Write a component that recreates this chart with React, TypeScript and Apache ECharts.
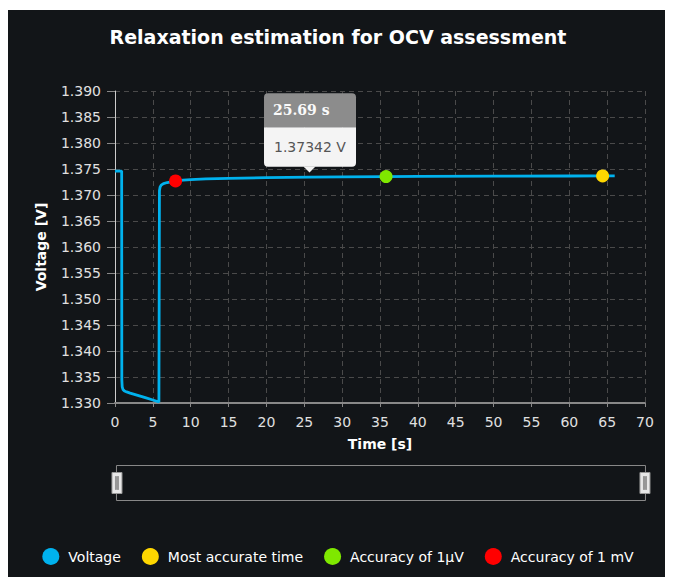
import { useEffect, useRef } from 'react';
import * as echarts from 'echarts';

const chartTitle = 'Relaxation estimation for OCV assessment';
const timeValues = [0, 0.88, 0.9, 0.95, 1.05, 1.25, 1.54, 2, 3, 4, 5, 5.8, 5.85, 5.87, 5.95, 6.1, 6.4, 6.9, 8.0, 9, 10, 12, 15, 20, 25.69, 30, 35.8, 40, 50, 60, 64.4, 66];
const voltageValues = [1.3746, 1.3746, 1.3345, 1.3331, 1.3326, 1.3323, 1.33213, 1.3319, 1.33148, 1.33103, 1.33057, 1.3302, 1.3302, 1.3708, 1.3715, 1.3719, 1.3722, 1.3724, 1.3727, 1.37285, 1.37297, 1.3731, 1.3732, 1.37334, 1.37342, 1.37348, 1.37355, 1.37358, 1.37362, 1.37365, 1.37366, 1.37367];
const mostAccurate = [64.4, 1.37366];
const accuracy1uV = [35.8, 1.37355];
const accuracy1mV = [8.0, 1.3727];
const tooltipTime = 25.69;
const tooltipVoltage = 1.37342;
const xTicks = { min: 0, max: 70, interval: 5 };
const yTicks = { min: 1.33, max: 1.39, interval: 0.005 };

const BG = '#121518';
const FONT = 'DejaVu Sans';

export default function App() {
  const ref = useRef<HTMLDivElement>(null);
  useEffect(() => {
    document.documentElement.style.overflow = 'hidden';
    document.body.style.overflow = 'hidden';
    const chart = echarts.init(ref.current!, null, { renderer: 'svg' });
    const voltageData = timeValues.map((t, i) => [t, voltageValues[i]]);
    chart.setOption({
      animation: false,
      backgroundColor: BG,
      textStyle: { fontFamily: FONT },
      title: {
        text: chartTitle,
        left: 'center',
        top: 12,
        textStyle: { color: '#ffffff', fontWeight: 'bold', fontSize: 19, fontFamily: FONT },
      },
      legend: {
        left: 'center',
        top: 533,
        icon: 'circle',
        itemWidth: 25,
        itemHeight: 17,
        itemGap: 21,
        textStyle: { color: '#ffffff', fontSize: 14, fontFamily: FONT },
        data: ['Voltage', 'Most accurate time', 'Accuracy of 1μV', 'Accuracy of 1 mV'],
      },
      grid: { left: 107, top: 81, width: 530, height: 312, containLabel: false },
      xAxis: {
        type: 'value',
        min: xTicks.min,
        max: xTicks.max,
        interval: xTicks.interval,
        name: 'Time [s]',
        nameLocation: 'middle',
        nameGap: 34,
        nameTextStyle: { color: '#ffffff', fontWeight: 'bold', fontSize: 14, fontFamily: FONT },
        axisLine: { show: true, onZero: false, lineStyle: { color: '#888888', width: 2 } },
        axisTick: { show: true, length: 4, lineStyle: { color: '#888888' } },
        axisLabel: { color: '#e0e0e0', fontSize: 14, margin: 12, fontFamily: FONT },
        splitLine: { show: true, lineStyle: { color: '#4a4a4a', type: [5, 4], width: 1 } },
      },
      yAxis: {
        type: 'value',
        min: yTicks.min,
        max: yTicks.max,
        interval: yTicks.interval,
        name: 'Voltage [V]',
        nameLocation: 'middle',
        nameGap: 67,
        nameTextStyle: { color: '#ffffff', fontWeight: 'bold', fontSize: 14, fontFamily: FONT },
        axisLine: { show: true, lineStyle: { color: '#cccccc', width: 1 } },
        axisTick: { show: true, length: 8, lineStyle: { color: '#888888' } },
        axisLabel: {
          color: '#e0e0e0',
          fontSize: 14,
          margin: 14,
          fontFamily: FONT,
          formatter: (v: number) => v.toFixed(3),
        },
        splitLine: { show: true, lineStyle: { color: '#4a4a4a', type: [5, 4], width: 1 } },
      },
      dataZoom: [
        {
          type: 'slider',
          xAxisIndex: 0,
          filterMode: 'none',
          start: 0,
          end: 100,
          left: 107,
          top: 455,
          width: 530,
          height: 36,
          showDetail: false,
          showDataShadow: false,
          brushSelect: false,
          moveHandleSize: 0,
          borderColor: '#888888',
          borderRadius: 0,
          backgroundColor: 'rgba(0,0,0,0)',
          fillerColor: 'rgba(0,0,0,0)',
          handleIcon: 'path://M0,0 L10,0 L10,21 L0,21 Z M3.5,4 L3.5,17 L4.5,17 L4.5,4 Z M5.5,4 L5.5,17 L6.5,17 L6.5,4 Z',
          handleSize: 21,
          handleStyle: { color: '#e8e8e8', borderColor: '#999999', borderWidth: 1 },
          emphasis: { handleStyle: { color: '#e8e8e8', borderColor: '#999999' } },
        },
      ],
      series: [
        {
          name: 'Voltage',
          type: 'line',
          data: voltageData,
          showSymbol: false,
          symbol: 'circle',
          color: '#00b2ee',
          itemStyle: { color: '#00b2ee', opacity: 1 },
          lineStyle: { color: '#00b2ee', width: 2.8 },
          z: 2,
        },
        {
          name: 'Most accurate time',
          type: 'scatter',
          data: [mostAccurate],
          symbolSize: 13,
          itemStyle: { color: '#ffd700', opacity: 1 },
          z: 5,
        },
        {
          name: 'Accuracy of 1μV',
          type: 'scatter',
          data: [accuracy1uV],
          symbolSize: 13,
          itemStyle: { color: '#7fe800', opacity: 1 },
          z: 5,
        },
        {
          name: 'Accuracy of 1 mV',
          type: 'scatter',
          data: [accuracy1mV],
          symbolSize: 13,
          itemStyle: { color: '#ff0000', opacity: 1 },
          z: 5,
        },
      ],
    });
    const pt = chart.convertToPixel({ seriesIndex: 0 }, [tooltipTime, tooltipVoltage]) as number[];
    chart.setOption({
      graphic: [
        {
          type: 'group',
          x: pt[0],
          y: pt[1],
          z: 100,
          children: [
            { type: 'rect', shape: { x: -45.5, y: -84, width: 92, height: 34, r: [4, 4, 0, 0] }, style: { fill: '#8c8c8c' } },
            { type: 'rect', shape: { x: -45.5, y: -50, width: 92, height: 39.5, r: [0, 0, 4, 4] }, style: { fill: '#f4f4f4' } },
            { type: 'polygon', shape: { points: [[-6, -10.8], [6, -10.8], [0, -4.8]] }, style: { fill: '#f4f4f4' } },
            {
              type: 'text',
              x: -36.5,
              y: -67,
              style: { text: `${tooltipTime.toFixed(2)} s`, fill: '#fafafa', font: 'bold 14px "DejaVu Serif"', verticalAlign: 'middle' },
            },
            {
              type: 'text',
              x: -35.5,
              y: -30.5,
              style: { text: `${tooltipVoltage.toFixed(5)} V`, fill: '#555555', font: '14px "DejaVu Sans"', verticalAlign: 'middle' },
            },
          ],
        },
      ],
    });
    return () => chart.dispose();
  }, []);
  return <div ref={ref} style={{ position: 'relative', top: 2, width: 660, height: 569 }} />;
}
